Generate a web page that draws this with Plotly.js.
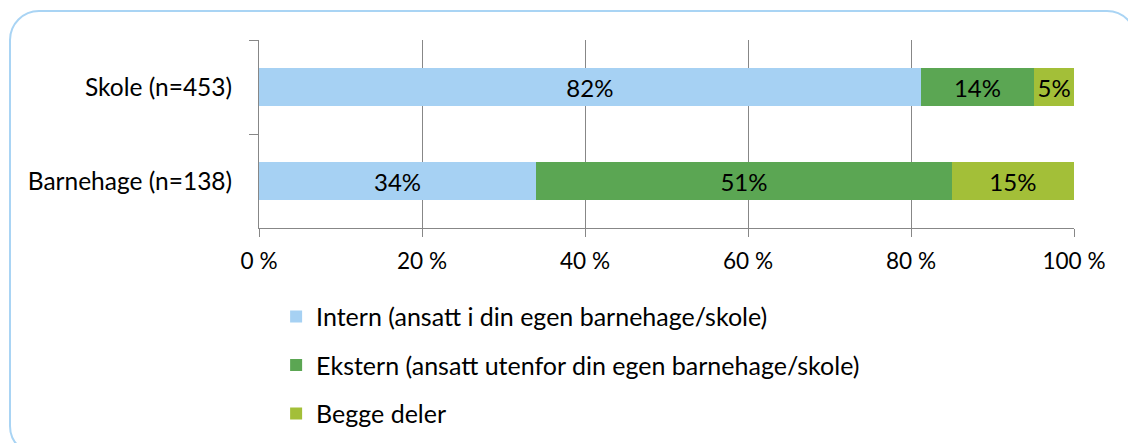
<!DOCTYPE html>
<html>
<head>
<meta charset="utf-8">
<script src="https://cdn.plot.ly/plotly-3.0.1.min.js"></script>
<style>
  html, body { margin: 0; padding: 0; background: #ffffff; overflow: hidden; }
  #frame { position: absolute; left: 9px; top: 10px; width: 1128px; height: 446px;
           border: 2px solid #a9d4f4; border-radius: 30px; box-sizing: border-box; }
  #chart { position: absolute; left: 0; top: 0; width: 1128px; height: 443px; }
</style>
</head>
<body>
<div id="frame"></div>
<div id="chart"></div>
<script>
// Categories (top to bottom)
const categories = ["Skole (n=453)", "Barnehage (n=138)"];
// Series values (percent)
const internValues = [81.2, 34.0];
const eksternValues = [13.9, 51.0];
const beggeValues = [4.9, 15.0];
// Data label texts as printed in the chart
const internLabels = ["82%", "34%"];
const eksternLabels = ["14%", "51%"];
const beggeLabels = ["5%", "15%"];
// Series names
const seriesNames = [
  "Intern (ansatt i din egen barnehage/skole)",
  "Ekstern (ansatt utenfor din egen barnehage/skole)",
  "Begge deler"
];
const tickValues = [0, 20, 40, 60, 80, 100];

const FONT = "Lato, 'Open Sans', sans-serif";
const colors = ["#a6d1f3", "#5ba653", "#a3bf38"];
const vals = [internValues, eksternValues, beggeValues];
const labs = [internLabels, eksternLabels, beggeLabels];

const traces = seriesNames.map((name, i) => ({
  type: "bar",
  orientation: "h",
  name: name,
  y: categories,
  x: vals[i],
  text: labs[i],
  textposition: "inside",
  insidetextanchor: "middle",
  textangle: 0,
  textfont: { family: FONT, size: 24, color: "#000000" },
  constraintext: "none",
  marker: { color: colors[i], line: { width: 0 } },
  legendgroup: "g" + i,
  hoverinfo: "x+name"
}));

const layout = {
  width: 1128,
  height: 443,
  margin: { l: 259, r: 54, t: 40, b: 215, autoexpand: false },
  paper_bgcolor: "rgba(0,0,0,0)",
  plot_bgcolor: "rgba(0,0,0,0)",
  barmode: "stack",
  bargap: 0.6,
  font: { family: FONT, size: 24, color: "#000000" },
  showlegend: true,
  legend: {
    orientation: "v",
    x: 0.021, xanchor: "left",
    y: -0.35, yanchor: "top",
    traceorder: "grouped",
    tracegroupgap: 13,
    font: { family: FONT, size: 25, color: "#000000" },
    bgcolor: "rgba(0,0,0,0)"
  },
  xaxis: {
    range: [0, 100],
    tickvals: tickValues,
    ticktext: tickValues.map(v => v + " %"),
    showgrid: true,
    gridcolor: "#878787",
    gridwidth: 1,
    showline: true,
    linecolor: "#878787",
    linewidth: 1,
    ticks: "outside",
    ticklen: 8,
    tickcolor: "#878787",
    ticklabelstandoff: 5,
    tickfont: { family: FONT, size: 22.6, color: "#000000" },
    zeroline: false,
    automargin: false,
    fixedrange: true
  },
  yaxis: {
    type: "category",
    categoryorder: "array",
    categoryarray: categories,
    autorange: "reversed",
    showline: true,
    linecolor: "#878787",
    linewidth: 1,
    ticks: "outside",
    tickson: "boundaries",
    ticklen: 9,
    tickcolor: "#878787",
    ticklabelstandoff: 21,
    tickfont: { family: FONT, size: 24.5, color: "#000000" },
    showgrid: false,
    zeroline: false,
    automargin: false,
    fixedrange: true
  }
};

Plotly.newPlot("chart", traces, layout, { displayModeBar: false, staticPlot: true });
</script>
</body>
</html>
